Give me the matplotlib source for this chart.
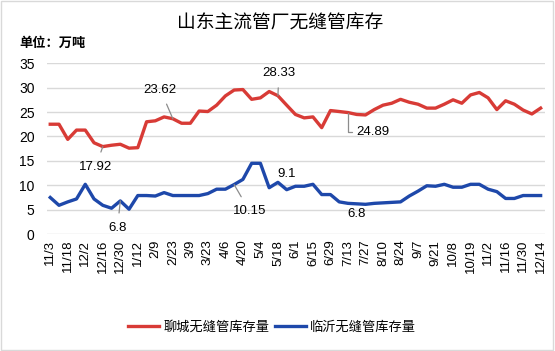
import matplotlib
matplotlib.use("Agg")
import matplotlib.pyplot as plt
import numpy as np

plt.rcParams['font.family'] = ['Noto Sans CJK SC', 'DejaVu Sans']

# 周度日期 (每两周显示一个标签)
tick_labels = ["11/3", "11/18", "12/2", "12/16", "12/30", "1/12", "2/9", "2/23",
               "3/9", "3/23", "4/6", "4/20", "5/4", "5/18", "6/1", "6/15", "6/29",
               "7/13", "7/27", "8/10", "8/24", "9/7", "9/21", "10/8", "10/19",
               "11/2", "11/16", "11/30", "12/14"]

liaocheng = [22.5, 22.5, 19.4, 21.3, 21.3, 18.7, 17.92, 18.2, 18.4, 17.6,
             17.7, 23.0, 23.2, 24.0, 23.62, 22.7, 22.7, 25.2, 25.1, 26.4,
             28.3, 29.5, 29.6, 27.6, 27.9, 29.2, 28.33, 26.4, 24.5, 23.8,
             24.0, 21.8, 25.3, 25.1, 24.89, 24.5, 24.4, 25.5, 26.4, 26.8,
             27.6, 27.0, 26.6, 25.8, 25.8, 26.6, 27.5, 26.8, 28.5, 29.0,
             27.9, 25.5, 27.3, 26.6, 25.4, 24.6, 25.8]

linyi = [7.5, 5.9, 6.6, 7.2, 10.2, 7.2, 5.9, 5.3, 6.8, 5.1,
         7.9, 7.9, 7.8, 8.5, 7.9, 7.9, 7.9, 7.9, 8.3, 9.2,
         9.2, 10.15, 11.2, 14.5, 14.5, 9.5, 10.6, 9.1, 9.8, 9.8,
         10.2, 8.1, 8.1, 6.6, 6.3, 6.2, 6.1, 6.3, 6.4, 6.5,
         6.6, 7.8, 8.8, 9.9, 9.8, 10.2, 9.6, 9.6, 10.2, 10.2,
         9.2, 8.7, 7.3, 7.3, 7.9, 7.9, 7.9]

# 数据标签: (序号, 文本, 偏移pt, 对齐, 引线)
labels_red = [(6, "17.92", (-5, -14.5), "center", "arc3"),
              (14, "23.62", (-9, 21), "center", "arc3"),
              (26, "28.33", (0.7, 16.5), "center", "arc3"),
              (34, "24.89", (6, -14), "left", "angle,angleA=0,angleB=90,rad=0")]
labels_blue = [(8, "6.8", (-2, -19.5), "center", "arc3"),
               (21, "10.15", (11, -19), "center", "arc3"),
               (27, "9.1", (0, 11), "center", None),
               (35, "6.8", (0, -7), "center", None)]

RED = "#D83B36"
BLUE = "#1E48AA"

fig = plt.figure(figsize=(5.55, 3.51), dpi=100)
ax = fig.add_axes([0.085, 0.333, 0.897, 0.487])
x = np.arange(len(liaocheng))

ax.plot(x, liaocheng, color=RED, lw=2.4, label="聊城无缝管库存量")
ax.plot(x, linyi, color=BLUE, lw=2.4, label="临沂无缝管库存量")

for series, labs in ((liaocheng, labels_red), (linyi, labels_blue)):
    for i, txt, off, ha, conn in labs:
        arrow = None
        if conn:
            arrow = dict(arrowstyle="-", color="#8C8C8C", lw=0.9,
                         shrinkA=1 if ha == "left" else 4.5, shrinkB=0,
                         connectionstyle=conn)
        ax.annotate(txt, (x[i], series[i]), xytext=off, textcoords="offset points",
                    ha=ha, va="center", fontsize=9.5, color="black",
                    family="Liberation Sans", arrowprops=arrow)

ax.set_ylim(0, 35)
ax.set_yticks(np.arange(0, 36, 5))
ax.set_xlim(-0.35, 56.5)
ax.set_xticks(x[::2])
ax.set_xticklabels(tick_labels, rotation=90, fontsize=9.5, family="Liberation Sans")
for t in ax.get_yticklabels():
    t.set_family("Liberation Sans")
ax.tick_params(axis="y", labelsize=10, length=0, pad=9)
ax.tick_params(axis="x", length=0, pad=4)
ax.grid(axis="y", color="#D9D9D9", lw=1)
ax.set_axisbelow(True)
for s in ax.spines.values():
    s.set_visible(False)

fig.text(0.505, 0.935, "山东主流管厂无缝管库存", ha="center", va="center", fontsize=13.5)
fig.text(0.035, 0.878, "单位：万吨", ha="left", va="center", fontsize=9.5, fontweight="bold")

fig.legend(loc="center", bbox_to_anchor=(0.49, 0.068), ncol=2, frameon=False,
           fontsize=9.5, handlelength=2.4, columnspacing=0.4, handletextpad=0.3)

# 外框
fig.patches.append(plt.Rectangle((0.002, 0.003), 0.995, 0.994, transform=fig.transFigure,
                                 fill=False, edgecolor="#D9D9D9", lw=1))

fig.savefig("out.png", dpi=100)
